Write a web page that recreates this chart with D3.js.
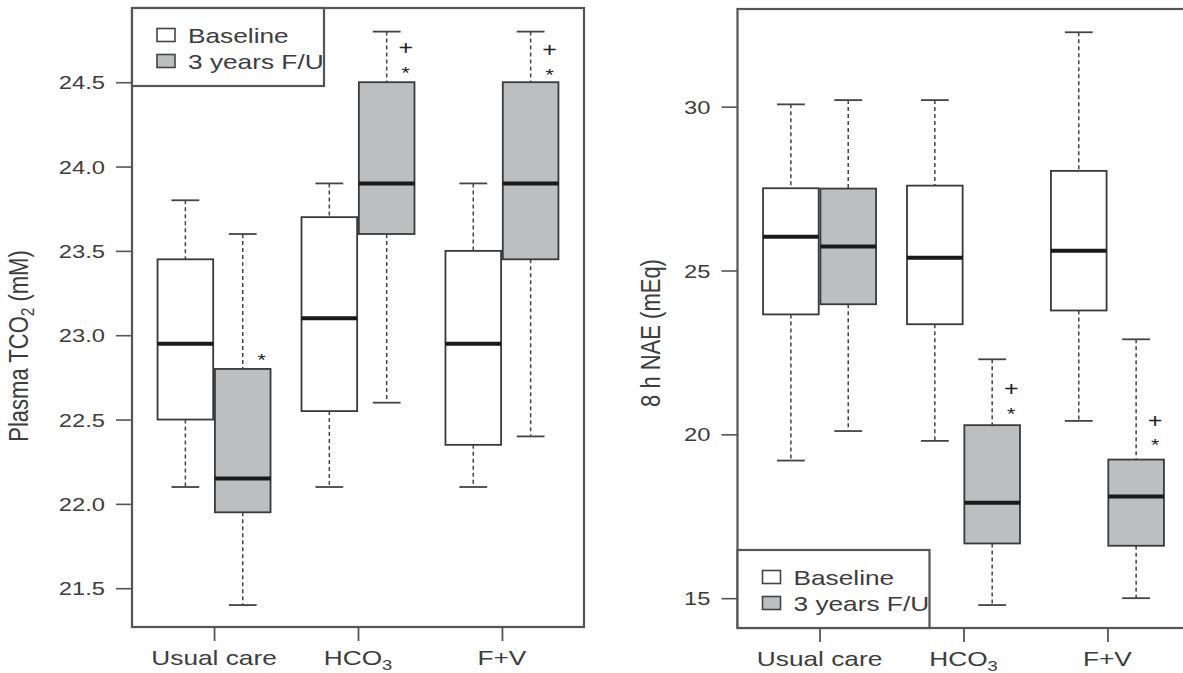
<!DOCTYPE html>
<html>
<head>
<meta charset="utf-8">
<script src="https://cdn.jsdelivr.net/npm/d3@7"></script>
<style>
  body { margin: 0; background: #fff; }
  svg { display: block; }
</style>
</head>
<body>
<script>
// categories and groups
const categories = ["Usual care", "HCO3", "F+V"];
const groups = ["Baseline", "3 years F/U"];

// box stats per category: [low whisker, Q1, median, Q3, high whisker]
const tco2Baseline = [[22.10, 22.50, 22.95, 23.45, 23.80], [22.10, 22.55, 23.10, 23.70, 23.90], [22.10, 22.35, 22.95, 23.50, 23.90]];
const tco2FollowUp = [[21.40, 21.95, 22.15, 22.80, 23.60], [22.60, 23.60, 23.90, 24.50, 24.80], [22.40, 23.45, 23.90, 24.50, 24.80]];
const naeBaseline = [[19.20, 23.66, 26.03, 27.51, 30.07], [19.80, 23.36, 25.39, 27.59, 30.20], [20.41, 23.78, 25.60, 28.04, 32.27]];
const naeFollowUp = [[20.10, 23.97, 25.73, 27.50, 30.20], [14.79, 16.67, 17.91, 20.28, 22.29], [15.00, 16.60, 18.10, 19.23, 22.90]];

// axis ranges and ticks
const tco2Domain = [21.27, 24.94];
const naeDomain = [14.09, 32.98];
const tco2Ticks = [21.5, 22.0, 22.5, 23.0, 23.5, 24.0, 24.5];
const naeTicks = [15, 20, 25, 30];

// significance marks (category, symbol, value position), all on follow-up boxes
const tco2Marks = [["Usual care", "*", 22.89], ["HCO3", "+", 24.70], ["HCO3", "*", 24.59], ["F+V", "+", 24.69], ["F+V", "*", 24.58]];
const naeMarks = [["HCO3", "+", 21.39], ["HCO3", "*", 20.81], ["F+V", "+", 20.41], ["F+V", "*", 19.86]];

const W = 1183, H = 673;
const SX = 1.25; // picture is stretched sideways, text too
const FONT = '"Liberation Sans", Arial, Helvetica, sans-serif';
const INK = "#3d3d3d";
const GREY = "#bdbec0";

const svg = d3.select("body").append("svg")
    .attr("width", W)
    .attr("height", H)
    .style("font-family", FONT);

function addLabel(g, parts, size) {
  parts.forEach(p => {
    const t = g.append("tspan").text(p.t);
    if (p.sub) t.attr("dy", size * 0.22).attr("font-size", size * 0.7);
    if (p.up) t.attr("dy", -size * 0.22);
  });
}

function labelParts(c) {
  if (c === "HCO3") return [{t: "HCO"}, {t: "3", sub: true}];
  return [{t: c}];
}

function drawPanel(cfg) {
  const g = svg.append("g").attr("transform", `translate(${cfg.left},${cfg.top})`);

  const x = d3.scalePoint().domain(categories).range([0, cfg.width]).padding(0.57);
  const inner = d3.scaleBand().domain(groups).range([-56.5, 56.5]).paddingInner(0.03);
  const y = d3.scaleLinear().domain(cfg.domain).range([cfg.height, 0]);
  const bw = inner.bandwidth();

  // y axis
  const ya = g.append("g")
      .call(d3.axisLeft(y).tickValues(cfg.ticks).tickFormat(cfg.fmt).tickSize(16));
  ya.select(".domain").remove();
  ya.attr("font-family", FONT).attr("font-size", 19);
  ya.selectAll(".tick line").attr("stroke", "#555").attr("stroke-width", 1.6);
  ya.selectAll(".tick text")
      .attr("x", -27 / SX)
      .attr("dy", "0.35em")
      .attr("fill", INK)
      .attr("transform", `scale(${SX},1)`);

  // x axis
  const xa = g.append("g")
      .attr("transform", `translate(0,${cfg.height})`)
      .call(d3.axisBottom(x).tickSize(14).tickFormat(""));
  xa.select(".domain").remove();
  xa.selectAll(".tick line").attr("stroke", "#555").attr("stroke-width", 1.8);

  g.selectAll(".xlab")
    .data(categories)
    .enter()
    .append("text")
    .attr("class", "xlab")
    .attr("text-anchor", "middle")
    .attr("font-size", 21)
    .attr("fill", INK)
    .attr("transform", d => `translate(${x(d)},${cfg.height + 38}) scale(${SX},1)`)
    .each(function(d) { addLabel(d3.select(this), labelParts(d), 21); });

  // boxes
  const rows = [];
  cfg.series.forEach((arr, gi) => {
    arr.forEach((s, ci) => {
      rows.push({cat: categories[ci], grp: groups[gi], lo: s[0], q1: s[1], med: s[2], q3: s[3], hi: s[4]});
    });
  });
  const cx = d => x(d.cat) + inner(d.grp) + bw / 2;

  const box = g.selectAll(".box")
    .data(rows)
    .enter()
    .append("g")
    .attr("class", "box");

  box.append("line")
    .attr("x1", cx).attr("x2", cx)
    .attr("y1", d => y(d.hi)).attr("y2", d => y(d.q3))
    .attr("stroke", "#444").attr("stroke-width", 1.5).attr("stroke-dasharray", "4,3");
  box.append("line")
    .attr("x1", cx).attr("x2", cx)
    .attr("y1", d => y(d.q1)).attr("y2", d => y(d.lo))
    .attr("stroke", "#444").attr("stroke-width", 1.5).attr("stroke-dasharray", "4,3");
  ["hi", "lo"].forEach(k => {
    box.append("line")
      .attr("x1", d => cx(d) - bw / 4).attr("x2", d => cx(d) + bw / 4)
      .attr("y1", d => y(d[k])).attr("y2", d => y(d[k]))
      .attr("stroke", "#444").attr("stroke-width", 1.8);
  });
  box.append("rect")
    .attr("x", d => cx(d) - bw / 2)
    .attr("y", d => y(d.q3))
    .attr("width", bw)
    .attr("height", d => y(d.q1) - y(d.q3))
    .attr("fill", d => d.grp === groups[0] ? "#fff" : GREY)
    .attr("stroke", "#3a3a3a")
    .attr("stroke-width", 1.8);
  box.append("line")
    .attr("x1", d => cx(d) - bw / 2).attr("x2", d => cx(d) + bw / 2)
    .attr("y1", d => y(d.med)).attr("y2", d => y(d.med))
    .attr("stroke", "#1a1a1a").attr("stroke-width", 4);

  // + and * marks
  g.selectAll(".mark")
    .data(cfg.marks)
    .enter()
    .append("text")
    .attr("class", "mark")
    .attr("text-anchor", "middle")
    .attr("dy", d => d[1] === "+" ? "0.35em" : "0.7em")
    .attr("font-size", d => d[1] === "+" ? 20 : 17)
    .attr("fill", "#222")
    .attr("transform", d => `translate(${x(d[0]) + inner(groups[1]) + bw / 2 + 19},${y(d[2])}) scale(${SX},1)`)
    .text(d => d[1]);

  // frame
  g.append("rect")
    .attr("width", cfg.width)
    .attr("height", cfg.height)
    .attr("fill", "none")
    .attr("stroke", "#555")
    .attr("stroke-width", 2.2);

  // legend
  const lg = g.append("g").attr("transform", `translate(0,${cfg.legendY})`);
  lg.append("rect")
    .attr("width", 192).attr("height", 78)
    .attr("fill", "#fff").attr("stroke", "#555").attr("stroke-width", 2.2);
  const item = lg.selectAll(".item")
    .data(groups)
    .enter()
    .append("g")
    .attr("class", "item")
    .attr("transform", (d, i) => `translate(0,${27 + i * 26})`);
  item.append("rect")
    .attr("x", 25).attr("y", -6.5)
    .attr("width", 18).attr("height", 13)
    .attr("fill", (d, i) => i === 0 ? "#fff" : GREY)
    .attr("stroke", "#444").attr("stroke-width", 1.6);
  item.append("text")
    .attr("transform", `translate(56,0) scale(${SX},1)`)
    .attr("dy", "0.36em")
    .attr("font-size", 21)
    .attr("fill", INK)
    .text(d => d);

  // y title
  const tt = g.append("text")
    .attr("text-anchor", "middle")
    .attr("font-size", 22)
    .attr("fill", INK)
    .attr("transform", `translate(${cfg.titleX},${cfg.titleY}) scale(${SX},1) rotate(-90)`);
  addLabel(tt, cfg.title, 22);
}

drawPanel({
  left: 132, top: 8, width: 452, height: 619,
  domain: tco2Domain, ticks: tco2Ticks, fmt: d3.format(".1f"),
  series: [tco2Baseline, tco2FollowUp], marks: tco2Marks,
  legendY: 0,
  titleX: -104, titleY: 338,
  title: [{t: "Plasma TCO"}, {t: "2", sub: true}, {t: " (mM)", up: true}]
});

drawPanel({
  left: 737.5, top: 9, width: 452, height: 619,
  domain: naeDomain, ticks: naeTicks, fmt: d3.format("d"),
  series: [naeBaseline, naeFollowUp], marks: naeMarks,
  legendY: 541,
  titleX: -78, titleY: 324,
  title: [{t: "8 h NAE (mEq)"}]
});
</script>
</body>
</html>
